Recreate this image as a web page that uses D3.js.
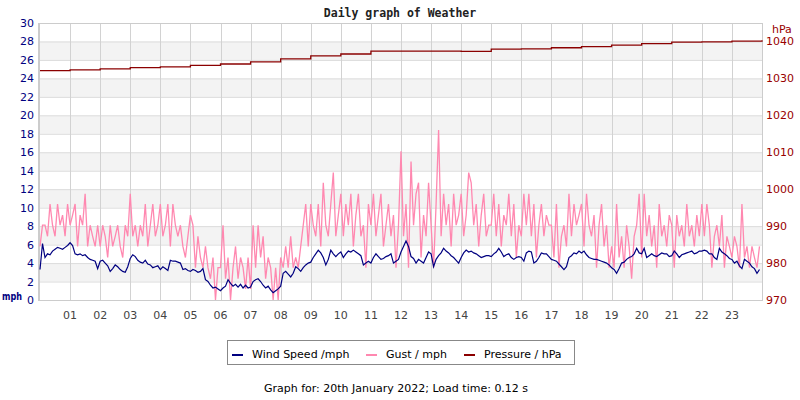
<!DOCTYPE html>
<html>
<head>
<meta charset="utf-8">
<script src="https://cdn.jsdelivr.net/npm/d3@7"></script>
<style>
  body { margin: 0; background: #fff; }
  text { font-family: "DejaVu Sans", sans-serif; }
</style>
</head>
<body>
<div id="chart"></div>
<script>
//hour labels along the bottom
var hourLabels = ["01","02","03","04","05","06","07","08","09","10","11","12",
  "13","14","15","16","17","18","19","20","21","22","23"];

//left axis ticks (mph) and right axis ticks (hPa)
var mphTicks = [0,2,4,6,8,10,12,14,16,18,20,22,24,26,28,30];
var hpaTicks = [970,980,990,1000,1010,1020,1030,1040];

//wind speed, one value every 5 minutes, one row per hour
var windSpeed = [
  3.3, 6.1, 4.6, 5.0, 4.9, 5.3, 5.5, 5.7, 5.6, 5.5, 5.7, 5.9,
  6.2, 5.9, 5.0, 4.9, 5.0, 4.8, 4.9, 4.6, 4.4, 4.3, 4.2, 3.4,
  4.2, 4.3, 4.0, 3.7, 3.1, 3.4, 3.8, 3.6, 3.3, 3.1, 3.0, 3.6,
  4.5, 4.9, 4.7, 4.3, 4.1, 4.0, 4.3, 3.9, 3.8, 3.5, 3.6, 3.7,
  3.3, 3.6, 3.4, 3.2, 4.3, 4.2, 4.2, 4.1, 4.0, 3.3, 3.4, 3.2,
  3.1, 3.3, 3.2, 3.0, 3.1, 3.4, 2.2, 2.0, 1.6, 1.3, 1.4, 1.2,
  1.0, 1.3, 1.5, 2.2, 1.8, 1.5, 1.7, 1.4, 1.7, 1.3, 1.6, 1.3,
  1.4, 2.0, 2.2, 2.3, 2.0, 1.6, 1.3, 1.5, 1.1, 0.8, 1.0, 1.2,
  1.5, 2.9, 3.1, 2.8, 2.5, 2.9, 3.6, 3.4, 3.1, 3.5, 3.8, 4.0,
  4.1, 4.6, 5.0, 5.4, 5.1, 4.6, 3.8, 4.4, 5.4, 5.0, 4.7, 5.0,
  5.2, 4.6, 5.0, 5.3, 5.2, 5.4, 5.2, 5.0, 4.8, 3.8, 4.0, 4.2,
  4.0, 4.6, 5.0, 4.7, 4.4, 4.5, 4.7, 4.8, 5.0, 4.0, 4.2, 4.4,
  5.2, 5.8, 6.4, 5.8, 4.7, 4.5, 4.0, 4.4, 4.2, 4.0, 4.6, 5.2,
  5.0, 3.6, 4.4, 4.8, 5.1, 5.6, 5.3, 5.1, 4.8, 4.6, 4.3, 4.0,
  4.6, 5.1, 5.4, 5.2, 5.3, 5.1, 5.0, 4.8, 4.6, 4.7, 4.8, 4.8,
  4.7, 5.0, 5.2, 5.6, 5.2, 4.7, 4.9, 5.0, 4.6, 4.4, 4.6, 4.7,
  4.6, 4.2, 5.1, 5.3, 5.2, 4.0, 4.2, 4.6, 5.1, 5.0, 5.0, 4.7,
  4.4, 4.3, 4.2, 3.9, 3.6, 3.3, 3.6, 4.6, 4.8, 5.1, 5.0, 5.3,
  5.1, 5.3, 4.9, 4.6, 4.5, 4.4, 4.4, 4.3, 4.2, 4.1, 4.0, 3.8,
  3.5, 3.3, 2.9, 3.4, 4.0, 4.1, 4.4, 4.6, 4.7, 5.0, 5.6, 5.1,
  5.0, 5.6, 4.6, 4.8, 5.0, 4.8, 4.7, 4.9, 5.1, 5.0, 5.0, 4.7,
  4.8, 5.3, 5.0, 4.6, 4.9, 5.0, 5.1, 5.2, 5.3, 5.0, 5.1, 5.3,
  5.3, 5.4, 5.3, 5.0, 5.0, 4.6, 4.4, 5.6, 5.2, 5.0, 4.8, 4.5,
  4.4, 4.0, 4.2, 3.7, 3.4, 4.4, 4.2, 4.0, 3.6, 3.4, 2.9, 3.3
];

//gusts, one value every 5 minutes, one row per hour
var gust = [
  5.8, 8.1, 8.1, 6.9, 10.4, 8.1, 6.9, 10.4, 8.1, 9.2, 6.9, 10.4,
  8.1, 9.2, 10.4, 5.8, 9.2, 8.1, 11.5, 5.8, 8.1, 6.9, 5.8, 8.1,
  5.8, 8.1, 6.9, 4.6, 8.1, 5.8, 6.9, 8.1, 5.8, 4.6, 8.1, 6.9,
  11.5, 6.9, 8.1, 5.8, 8.1, 6.9, 10.4, 5.8, 8.1, 10.4, 6.9, 8.1,
  10.4, 6.9, 8.1, 10.4, 5.8, 10.4, 8.1, 6.9, 8.1, 5.8, 4.6, 6.9,
  9.2, 8.1, 3.5, 6.9, 4.6, 3.5, 5.8, 3.5, 2.3, 4.6, 0, 3.5,
  3.5, 8.1, 2.3, 4.6, 0, 3.5, 5.8, 2.3, 4.6, 3.5, 1.2, 4.6,
  1.2, 8.1, 3.5, 8.1, 4.6, 6.9, 2.3, 4.6, 3.5, 0, 3.5, 0,
  4.6, 3.5, 5.8, 3.5, 6.9, 3.5, 4.6, 3.5, 5.8, 8.1, 10.4, 5.8,
  10.4, 8.1, 6.9, 10.4, 5.8, 12.7, 8.1, 6.9, 10.4, 13.8, 6.9, 9.2,
  11.5, 6.9, 10.4, 8.1, 11.5, 5.8, 9.2, 11.5, 6.9, 8.1, 3.5, 10.4,
  8.1, 11.5, 6.9, 9.2, 11.5, 5.8, 8.1, 10.4, 6.9, 9.2, 3.5, 8.1,
  16.1, 6.9, 10.4, 3.5, 15.0, 8.1, 11.5, 12.7, 4.6, 9.2, 6.9, 12.7,
  8.1, 3.5, 10.4, 18.4, 6.9, 11.5, 8.1, 10.4, 5.8, 11.5, 8.1, 9.2,
  11.5, 6.9, 9.2, 13.8, 12.7, 8.1, 10.4, 5.8, 9.2, 11.5, 6.9, 8.1,
  8.1, 11.5, 6.9, 10.4, 5.8, 9.2, 8.1, 11.5, 6.9, 10.4, 4.6, 8.1,
  6.9, 11.5, 8.1, 11.5, 6.9, 10.4, 4.6, 8.1, 10.4, 6.9, 9.2, 8.1,
  8.1, 4.6, 10.4, 3.5, 6.9, 8.1, 5.8, 11.5, 6.9, 10.4, 8.1, 9.2,
  10.4, 5.8, 11.5, 8.1, 6.9, 9.2, 3.5, 8.1, 10.4, 5.8, 8.1, 3.5,
  5.8, 3.5, 10.4, 4.6, 6.9, 3.5, 8.1, 5.8, 2.3, 6.9, 8.1, 11.5,
  4.6, 11.5, 6.9, 9.2, 5.8, 8.1, 3.5, 10.4, 6.9, 8.1, 5.8, 9.2,
  8.1, 3.5, 9.2, 6.9, 8.1, 5.8, 10.4, 6.9, 8.1, 5.8, 9.2, 6.9,
  10.4, 6.9, 10.4, 8.1, 3.5, 6.9, 8.1, 5.8, 9.2, 3.5, 6.9, 5.8,
  4.6, 6.9, 5.8, 3.5, 10.4, 4.6, 5.8, 3.5, 5.8, 4.6, 3.5, 5.8
];

//pressure, one value per hour from 00 to 24
var pressure = [
  1032.1, 1032.3, 1032.6, 1032.9, 1033.1, 1033.5, 1033.9, 1034.5,
  1035.3, 1036.1, 1036.6, 1037.4, 1037.4, 1037.4, 1037.3, 1037.9,
  1038.0, 1038.3, 1038.6, 1039.0, 1039.4, 1039.8, 1039.9, 1040.1, 1040.3
];

var width = 800,
  height = 400;

var svg = d3
  .select("#chart")
  .append("svg")
  .attr("width", width)
  .attr("height", height);

//scales: time in hours, mph on the left, hPa on the right
var x = d3.scaleLinear().domain([0, 24]).range([40, 762]);
var y = d3.scaleLinear().domain([0, 30]).range([300, 23]);
var yP = d3.scaleLinear().domain([970, 1045]).range([300, 23]);

//alternate grey bands
var bands = mphTicks.filter(function(t) { return t % 4 == 2 && t < 30; });
svg
  .selectAll(".band")
  .data(bands)
  .enter()
  .append("rect")
  .attr("x", x(0))
  .attr("width", x(24) - x(0))
  .attr("y", function(d) { return y(d + 2); })
  .attr("height", function(d) { return y(d) - y(d + 2); })
  .attr("fill", "#f3f3f3");

//horizontal grid lines
svg
  .selectAll(".hgrid")
  .data(mphTicks)
  .enter()
  .append("line")
  .attr("x1", x(0))
  .attr("x2", x(24))
  .attr("y1", function(d) { return y(d) + 0.5; })
  .attr("y2", function(d) { return y(d) + 0.5; })
  .attr("stroke", "#dcdcdc");

//vertical grid lines, one per hour
svg
  .selectAll(".vgrid")
  .data(hourLabels)
  .enter()
  .append("line")
  .attr("x1", function(d) { return Math.round(x(+d)) + 0.5; })
  .attr("x2", function(d) { return Math.round(x(+d)) + 0.5; })
  .attr("y1", y(30))
  .attr("y2", y(0))
  .attr("stroke", "#d2d2d2");

//plot frame
svg
  .append("rect")
  .attr("x", x(0) - 0.5)
  .attr("y", y(30) + 0.5)
  .attr("width", x(24) - x(0) + 1)
  .attr("height", y(0) - y(30))
  .attr("fill", "none")
  .attr("stroke", "#cccccc");
svg
  .append("line")
  .attr("x1", x(0) - 1)
  .attr("x2", x(0) - 1)
  .attr("y1", y(30))
  .attr("y2", y(0) + 1)
  .attr("stroke", "#cccccc")
  .attr("stroke-width", 2);

//left axis labels
svg
  .selectAll(".ltick")
  .data(mphTicks)
  .enter()
  .append("text")
  .attr("x", 34)
  .attr("y", function(d) { return y(d) + 4; })
  .attr("text-anchor", "end")
  .attr("font-size", 11)
  .attr("fill", "#000080")
  .text(function(d) { return d; });

svg
  .append("text")
  .attr("x", 2)
  .attr("y", 300)
  .attr("font-size", 11)
  .attr("font-weight", "bold")
  .attr("fill", "#000080")
  .attr("textLength", 20)
  .attr("lengthAdjust", "spacingAndGlyphs")
  .text("mph");

//right axis labels
svg
  .selectAll(".rtick")
  .data(hpaTicks)
  .enter()
  .append("text")
  .attr("x", 766)
  .attr("y", function(d) { return yP(d) + 4; })
  .attr("font-size", 11)
  .attr("fill", "#990000")
  .text(function(d) { return d; });

svg
  .append("text")
  .attr("x", 772)
  .attr("y", 33)
  .attr("font-size", 11)
  .attr("fill", "#990000")
  .text("hPa");

//hour labels
svg
  .selectAll(".xtick")
  .data(hourLabels)
  .enter()
  .append("text")
  .attr("x", function(d) { return x(+d); })
  .attr("y", 319)
  .attr("text-anchor", "middle")
  .attr("font-size", 11)
  .attr("fill", "#444")
  .text(function(d) { return d; });

//data lines
var fiveMin = function(d, i) { return x(i / 12); };

var gustLine = d3.line()
  .x(fiveMin)
  .y(function(d) { return y(d); });

var windLine = d3.line()
  .x(fiveMin)
  .y(function(d) { return y(d); });

var pressureLine = d3.line()
  .x(function(d, i) { return x(i); })
  .y(function(d) { return yP(d); })
  .curve(d3.curveStepAfter);

svg
  .append("path")
  .datum(gust)
  .attr("d", gustLine)
  .attr("fill", "none")
  .attr("stroke", "#ff88b0")
  .attr("stroke-width", 1.3);

svg
  .append("path")
  .datum(windSpeed)
  .attr("d", windLine)
  .attr("fill", "none")
  .attr("stroke", "#000080")
  .attr("stroke-width", 1.2);

svg
  .append("path")
  .datum(pressure)
  .attr("d", pressureLine)
  .attr("fill", "none")
  .attr("stroke", "#8b0000")
  .attr("stroke-width", 1.3);

//title
svg
  .append("text")
  .attr("x", 400)
  .attr("y", 17)
  .attr("text-anchor", "middle")
  .attr("font-size", 11.5)
  .attr("font-weight", "bold")
  .style("font-family", "'DejaVu Sans Mono', monospace")
  .attr("fill", "#222")
  .text("Daily graph of Weather");

//legend
var legendItems = [
  { label: "Wind Speed /mph", color: "#000080", x: 232 },
  { label: "Gust / mph", color: "#ff88b0", x: 366 },
  { label: "Pressure / hPa", color: "#8b0000", x: 464 }
];

svg
  .append("rect")
  .attr("x", 227.5)
  .attr("y", 340.5)
  .attr("width", 347)
  .attr("height", 24)
  .attr("fill", "#fff")
  .attr("stroke", "#888");

var legend = svg
  .selectAll(".legend")
  .data(legendItems)
  .enter()
  .append("g");

legend
  .append("line")
  .attr("x1", function(d) { return d.x; })
  .attr("x2", function(d) { return d.x + 11; })
  .attr("y1", 355)
  .attr("y2", 355)
  .attr("stroke", function(d) { return d.color; })
  .attr("stroke-width", 2);

legend
  .append("text")
  .attr("x", function(d) { return d.x + 20; })
  .attr("y", 358)
  .attr("font-size", 11)
  .attr("fill", "#000")
  .text(function(d) { return d.label; });

//footer
svg
  .append("text")
  .attr("x", 396)
  .attr("y", 392)
  .attr("text-anchor", "middle")
  .attr("font-size", 11)
  .attr("fill", "#000")
  .text("Graph for: 20th January 2022; Load time: 0.12 s");
</script>
</body>
</html>
